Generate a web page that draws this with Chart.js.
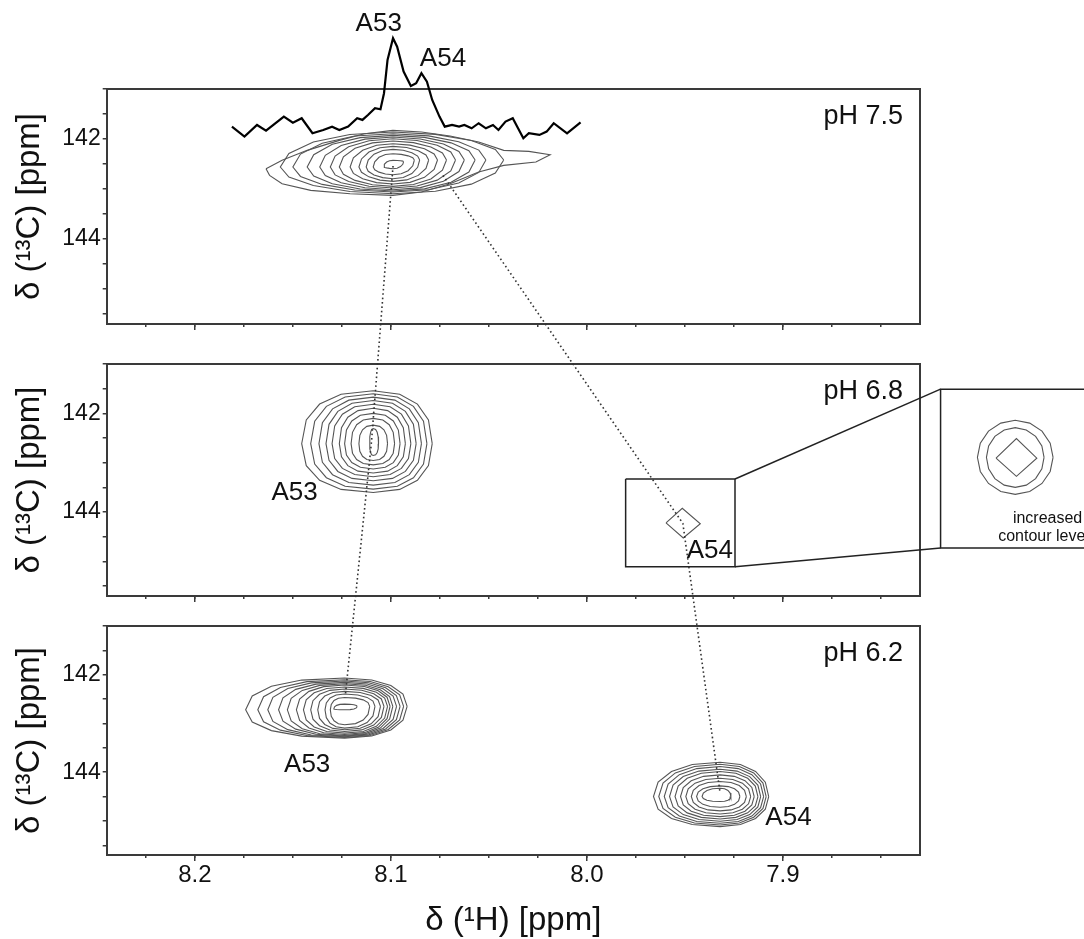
<!DOCTYPE html>
<html><head><meta charset="utf-8">
<script src="https://cdn.jsdelivr.net/npm/chart.js@4.4.1/dist/chart.umd.min.js"></script>
<style>
html,body{margin:0;padding:0;background:#fff;}
#wrap{position:relative;width:1084px;height:939px;overflow:hidden;background:#fff;}
#wrap canvas{position:absolute;left:0;top:0;}
</style></head><body>
<div id="wrap">
<canvas id="c1" width="1084" height="939"></canvas>
<canvas id="c2" width="1084" height="939"></canvas>
<canvas id="c3" width="1084" height="939"></canvas>
</div>
<script>
// ---------------- data ----------------
const xRange = [7.83, 8.245];            // 1H ppm (axis reversed)
const yRange = [141.0, 145.7];           // 13C ppm (axis reversed)
const xMajorTicks = [8.2, 8.1, 8.0, 7.9];
const xMinorTicks = [8.225, 8.2, 8.175, 8.15, 8.125, 8.1, 8.075, 8.05, 8.025, 8.0, 7.975, 7.95, 7.925, 7.9, 7.875, 7.85];
const yTicks = [141, 141.5, 142, 142.5, 143, 143.5, 144, 144.5, 145, 145.5];
const yTickLabels = [142, 144];
const panelLabels = ['pH 7.5', 'pH 6.8', 'pH 6.2'];

// 1D trace above the pH 7.5 panel
const specH = [8.1811,8.1747,8.1683,8.1637,8.1546,8.1500,8.1455,8.1400,8.1345,8.1300,8.1263,8.1218,8.1172,8.1145,8.1117,8.1081,8.1053,8.1035,8.1017,8.0989,8.0968,8.0935,8.0898,8.0871,8.0844,8.0816,8.0789,8.0752,8.0725,8.0688,8.0652,8.0625,8.0588,8.0552,8.0515,8.0479,8.0451,8.0415,8.0378,8.0351,8.0324,8.0296,8.0242,8.0205,8.0169,8.0101,8.0032];
const specI = [3.6,-7.3,5.4,-0.7,14.5,7.9,12.7,-3.6,0,3.6,0,3.6,12.7,10.9,16.3,23.6,22.5,39.9,76.1,99.7,90.5,63.4,47.8,50.7,61.6,52.5,32.6,14.5,3.6,5.4,3.6,5.4,1.8,7.3,1.8,5.4,0,9.1,12.7,1.8,-9.1,-3.6,-5.4,-1.8,7.3,-3.6,8.3];

// contour levels, outer -> inner: [left 1H, right 1H, top 13C, bottom 13C]
// pH 7.5 (A53 + A54 overlapped): explicit outermost contour, then nested levels
const ph75OuterH = [8.1637,8.1555,8.1427,8.1263,8.1135,8.0990,8.0844,8.0698,8.0552,8.0424,8.0296,8.0187,8.0260,8.0424,8.0552,8.0698,8.0844,8.0990,8.1208,8.1409,8.1555,8.1619,8.1637];
const ph75OuterC = [142.594,142.427,142.227,142.027,141.894,141.827,141.861,141.941,142.061,142.227,142.247,142.314,142.461,142.527,142.661,142.894,143.061,143.127,143.094,143.027,142.894,142.727,142.594];
const ph75Levels = [
  [8.1564, 8.0424, 141.861, 143.094],
  [8.1500, 8.0515, 141.894, 143.061],
  [8.1427, 8.0570, 141.927, 143.041],
  [8.1363, 8.0625, 141.961, 143.014],
  [8.1309, 8.0670, 141.994, 142.981],
  [8.1263, 8.0716, 142.041, 142.947],
  [8.1208, 8.0762, 142.094, 142.901],
  [8.1163, 8.0807, 142.147, 142.847],
  [8.1126, 8.0853, 142.207, 142.794],
  [8.1090, 8.0880, 142.294, 142.714],
  [8.1035, 8.0935, 142.427, 142.594]
];
const ph75Peak = [8.0989, 142.56, 142.42];      // apex 1H, left-tip 13C, right-tip 13C

// pH 6.8
const ph68A53Levels = [
  [8.1455, 8.0789, 141.543, 143.604],
  [8.1409, 8.0816, 141.604, 143.535],
  [8.1367, 8.0844, 141.672, 143.453],
  [8.1331, 8.0871, 141.741, 143.365],
  [8.1300, 8.0898, 141.816, 143.283],
  [8.1263, 8.0926, 141.898, 143.208],
  [8.1236, 8.0953, 142.000, 143.126],
  [8.1203, 8.0981, 142.102, 143.044],
  [8.1163, 8.1017, 142.239, 142.955],
  [8.1108, 8.1063, 142.307, 142.853]
];
const ph68A53Peak = [8.1090, 142.614, 142.614];
const ph68A54H = [7.9596, 7.9513, 7.9421, 7.9508, 7.9596];
const ph68A54C = [144.217, 143.924, 144.237, 144.524, 144.217];
// zoomed inset (increased contour levels)
const insetLevels = [
  [7.8007, 7.7621, 142.14, 143.64],
  [7.7961, 7.7667, 142.29, 143.50]
];
const insetPeak = [7.7814, 142.89, 142.89];
const insetInnerH = [7.7912, 7.7808, 7.7704, 7.7808, 7.7912];
const insetInnerC = [142.907, 142.512, 142.907, 143.275, 142.907];
const zoomBoxH = [7.9802, 7.9244, 7.9244, 7.9802, 7.9802];
const zoomBoxC = [143.33, 143.33, 145.105, 145.105, 143.33];
const insetBoxH = [7.70, 7.8195, 7.8195, 7.70];
const insetBoxC = [141.509, 141.509, 144.729, 144.729];
const connTopH = [7.9244, 7.8195], connTopC = [143.33, 141.509];
const connBotH = [7.9244, 7.8195], connBotC = [145.105, 144.729];

// pH 6.2
const ph62A53Levels = [
  [8.1741, 8.0917, 142.068, 143.301],
  [8.1679, 8.0935, 142.102, 143.288],
  [8.1628, 8.0953, 142.130, 143.274],
  [8.1573, 8.0971, 142.157, 143.260],
  [8.1528, 8.0990, 142.185, 143.247],
  [8.1482, 8.1004, 142.212, 143.226],
  [8.1446, 8.1017, 142.253, 143.199],
  [8.1409, 8.1035, 142.294, 143.165],
  [8.1373, 8.1053, 142.342, 143.130],
  [8.1336, 8.1081, 142.397, 143.096],
  [8.1309, 8.1108, 142.466, 143.027],
  [8.1291, 8.1172, 142.603, 142.719]
];
const ph62A53Peak = [8.1236, 142.72, 142.65];
const ph62A54Levels = [
  [7.9660, 7.9072, 143.795, 145.117],
  [7.9633, 7.9085, 143.836, 145.083],
  [7.9605, 7.9098, 143.884, 145.049],
  [7.9578, 7.9113, 143.939, 145.008],
  [7.9550, 7.9127, 143.987, 144.960],
  [7.9522, 7.9146, 144.055, 144.912],
  [7.9495, 7.9164, 144.124, 144.857],
  [7.9467, 7.9186, 144.192, 144.795],
  [7.9440, 7.9219, 144.281, 144.720],
  [7.9412, 7.9265, 144.330, 144.603]
];
const ph62A54Peak = [7.9320, 144.50, 144.50];

// peak tracking (dotted lines) through the three panels
const a53TrackH = [8.0989, 8.1099, 8.1232], a53TrackC = [142.54, 142.58, 142.41];
const a54TrackH = [8.0734, 7.9510, 7.9320], a54TrackC = [142.728, 144.23, 144.43];

// labels
const peakLabels = [
  [['A53', 8.1062, 139.694], ['A54', 8.0734, 140.394]],
  [['A53', 8.1491, 143.603], ['A54', 7.9372, 144.778]],
  [['A53', 8.1427, 143.850], ['A54', 7.8971, 144.946]]
];
const insetText = [['increased', 7.7649, 144.13], ['contour levels', 7.7649, 144.50]];

// ---------------- layout / style ----------------
const FONT = "'Liberation Sans', Arial, Helvetica, sans-serif";
const INK = '#3a3a3a';
const TXT = '#111';
const CONTOUR = '#555';
const W = 1084, H = 939;
const PLOT_LEFT = 106.7, PLOT_RIGHT = 920, Y_AXIS_W = 100;
const PANELS = [
  {top: 89, bottom: 324, xAxisH: 10},
  {top: 364, bottom: 596, xAxisH: 10},
  {top: 626, bottom: 855, xAxisH: 84}
];

// ---------------- helpers ----------------
const zip = (hs, cs) => hs.map((h, i) => ({x: h, y: cs[i]}));
function ring(level, peak, p) {
  const [xl, xr, yt, yb] = level;
  const xc = Math.min(xl, Math.max(xr, peak[0]));
  const span = yb - yt, e = 2 / p, N = 16, pts = [];
  const clampY = v => Math.min(yb - 0.15 * span, Math.max(yt + 0.15 * span, v));
  for (let k = 0; k <= N; k++) {
    const th = 2 * Math.PI * k / N, cx = Math.cos(th), sy = Math.sin(th);
    const x = xc + (cx >= 0 ? xr - xc : xl - xc) * Math.pow(Math.abs(cx), e);
    const ym = clampY(peak[1] + (peak[2] - peak[1]) * (1 + cx) / 2);
    const y = sy >= 0 ? ym + (yb - ym) * Math.pow(Math.abs(sy), e)
                      : ym - (ym - yt) * Math.pow(Math.abs(sy), e);
    pts.push({x, y});
  }
  return pts;
}
const lineDs = (data, extra) => Object.assign({
  data, showLine: true, borderColor: CONTOUR, borderWidth: 1.1, pointRadius: 0, tension: 0, fill: false
}, extra || {});
const contourSets = (levels, peak, p) => levels.map(l => lineDs(ring(l, peak, p)));

// ---------------- charts ----------------
const charts = [];
function makeChart(k, datasets, extraScales, extraPlugins) {
  const L = PANELS[k];
  const last = k === 2;
  const scales = {
    x: {
      type: 'linear', position: 'bottom', reverse: true, min: xRange[0], max: xRange[1], weight: 1,
      afterBuildTicks: s => { s.ticks = xMajorTicks.map(v => ({value: v})); },
      afterFit: s => { s.height = L.xAxisH; },
      grid: {drawOnChartArea: false, drawTicks: true, tickLength: 6, color: INK, lineWidth: 1.5},
      border: {display: true, color: INK, width: 2},
      ticks: {display: last, autoSkip: false, maxRotation: 0, padding: 0, color: TXT,
              font: {family: FONT, size: 24}, callback: v => Number(v).toFixed(1)},
      title: {display: last, text: 'δ (¹H) [ppm]', color: TXT, font: {family: FONT, size: 33},
              padding: {top: 0, bottom: -2}}
    },
    xMinor: {
      type: 'linear', position: 'bottom', reverse: true, min: xRange[0], max: xRange[1], weight: 0,
      afterBuildTicks: s => { s.ticks = xMinorTicks.map(v => ({value: v})); },
      afterFit: s => { s.height = 0; },
      grid: {drawOnChartArea: false, drawTicks: true, tickLength: 3, color: INK, lineWidth: 1.5},
      border: {display: false}, ticks: {display: false}
    },
    xTop: {
      type: 'linear', position: 'top', min: xRange[0], max: xRange[1],
      afterFit: s => { s.height = 0; },
      grid: {display: false}, border: {display: true, color: INK, width: 2}, ticks: {display: false}
    },
    y: {
      type: 'linear', position: 'left', reverse: true, min: yRange[0], max: yRange[1],
      afterBuildTicks: s => { s.ticks = yTicks.map(v => ({value: v})); },
      afterFit: s => { s.width = Y_AXIS_W; },
      grid: {drawOnChartArea: false, drawTicks: true, tickLength: 4, color: INK, lineWidth: 1.5},
      border: {display: true, color: INK, width: 2},
      ticks: {autoSkip: false, padding: 2, color: TXT, font: {family: FONT, size: 23},
              callback: v => yTickLabels.includes(Number(v)) ? String(v) : ''},
      title: {display: true, text: 'δ (¹³C) [ppm]', color: TXT, font: {family: FONT, size: 33},
              padding: {top: 3, bottom: 0}}
    },
    yRight: {
      type: 'linear', position: 'right', min: yRange[0], max: yRange[1],
      afterFit: s => { s.width = 0; },
      grid: {display: false}, border: {display: true, color: INK, width: 2}, ticks: {display: false}
    }
  };
  Object.assign(scales, extraScales || {});
  const textPlugin = {
    id: 'panelText' + k,
    afterDatasetsDraw(chart) {
      const {ctx, chartArea, scales: sc} = chart;
      ctx.save();
      ctx.fillStyle = TXT;
      ctx.font = '27px ' + FONT;
      ctx.textAlign = 'right'; ctx.textBaseline = 'middle';
      ctx.fillText(panelLabels[k], chartArea.right - 17, chartArea.top + 28);
      ctx.font = '26px ' + FONT;
      ctx.textAlign = 'center';
      peakLabels[k].forEach(([t, h, c]) => ctx.fillText(t, sc.x.getPixelForValue(h), sc.y.getPixelForValue(c)));
      ctx.restore();
    }
  };
  const ch = new Chart(document.getElementById('c' + (k + 1)), {
    type: 'scatter',
    data: {datasets},
    options: {
      responsive: false, animation: false, devicePixelRatio: 1,
      layout: {padding: {left: PLOT_LEFT - Y_AXIS_W, right: W - PLOT_RIGHT, top: L.top,
                         bottom: H - L.bottom - L.xAxisH}},
      plugins: {legend: {display: false}, tooltip: {enabled: false}, title: {display: false}},
      scales
    },
    plugins: [textPlugin].concat(extraPlugins || [])
  });
  charts.push(ch);
  return ch;
}

// panel 1: pH 7.5
makeChart(0,
  [lineDs(zip(ph75OuterH, ph75OuterC))]
    .concat(contourSets(ph75Levels, ph75Peak, 2.0))
    .concat([lineDs(zip(specH, specI), {yAxisID: 'ys', borderColor: '#000', borderWidth: 2.2, clip: false})]),
  {ys: {type: 'linear', display: false, min: -210.9, max: 44.5}}
);

// panel 2: pH 6.8
const frame = {borderColor: '#222', borderWidth: 1.5, clip: false};
makeChart(1,
  contourSets(ph68A53Levels, ph68A53Peak, 2.4)
    .concat([lineDs(zip(ph68A54H, ph68A54C))])
    .concat(insetLevels.map(l => lineDs(ring(l, insetPeak, 2.0), {clip: false})))
    .concat([lineDs(zip(insetInnerH, insetInnerC), {clip: false})])
    .concat([
      lineDs(zip(zoomBoxH, zoomBoxC), frame),
      lineDs(zip(insetBoxH, insetBoxC), frame),
      lineDs(zip(connTopH, connTopC), frame),
      lineDs(zip(connBotH, connBotC), frame)
    ]),
  {},
  [{
    id: 'insetText',
    afterDatasetsDraw(chart) {
      const {ctx, scales: sc} = chart;
      ctx.save();
      ctx.fillStyle = TXT; ctx.font = '16px ' + FONT;
      ctx.textAlign = 'center'; ctx.textBaseline = 'middle';
      insetText.forEach(([t, h, c]) => ctx.fillText(t, sc.x.getPixelForValue(h), sc.y.getPixelForValue(c)));
      ctx.restore();
    }
  }]
);

// panel 3: pH 6.2 (+ dotted tracking lines across all panels)
makeChart(2,
  contourSets(ph62A53Levels, ph62A53Peak, 2.3).concat(contourSets(ph62A54Levels, ph62A54Peak, 2.2)),
  {},
  [{
    id: 'tracks',
    afterDraw(chart) {
      const ctx = chart.ctx;
      const all = charts.concat(charts.includes(chart) ? [] : [chart]);
      const px = (i, h, c) => [all[i].scales.x.getPixelForValue(h), all[i].scales.y.getPixelForValue(c)];
      ctx.save();
      ctx.strokeStyle = '#333'; ctx.lineWidth = 1.6; ctx.setLineDash([1.6, 2.8]);
      [[a53TrackH, a53TrackC], [a54TrackH, a54TrackC]].forEach(([hs, cs]) => {
        ctx.beginPath();
        hs.forEach((h, i) => {
          const [x, y] = px(i, h, cs[i]);
          if (i === 0) ctx.moveTo(x, y); else ctx.lineTo(x, y);
        });
        ctx.stroke();
      });
      ctx.restore();
    }
  }]
);
</script>
</body></html>
